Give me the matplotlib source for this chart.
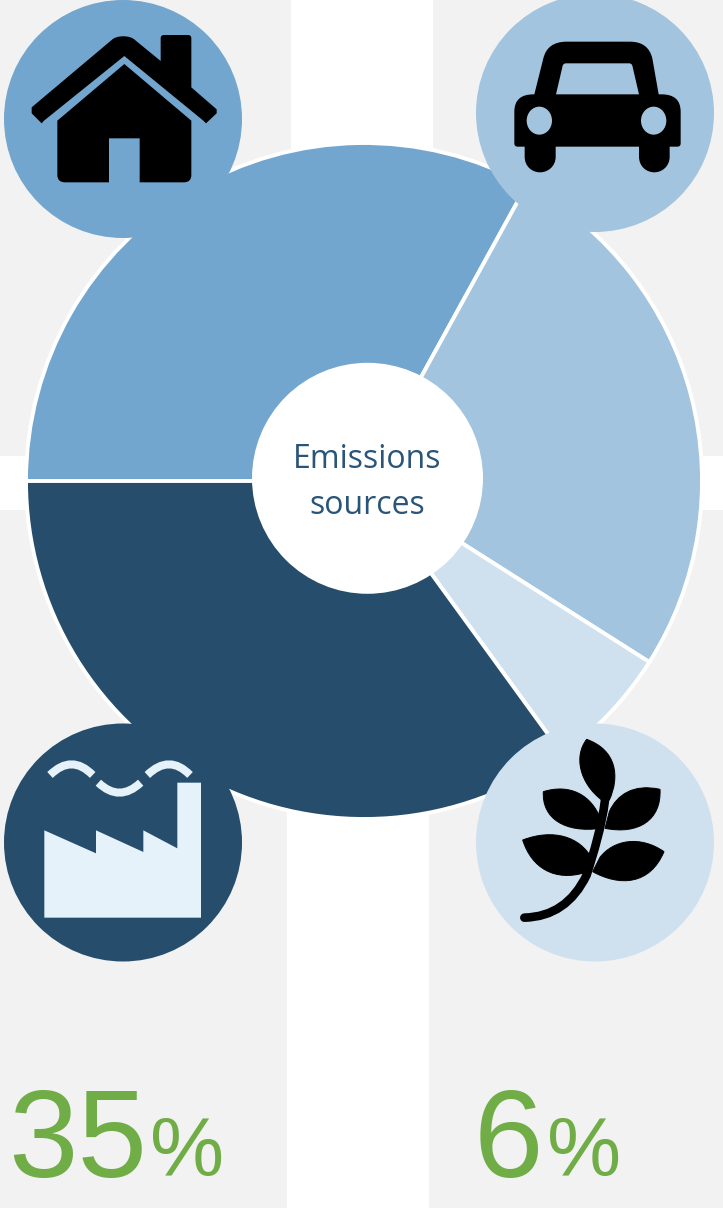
"""
Emissions sources infographic: pie with a white hub, four icon badges and two share callouts.
Icon outlines are traced in picture pixels (y down) and flipped by px_path.
"""
import matplotlib
matplotlib.use("Agg")
import matplotlib.pyplot as plt
from matplotlib.patches import Circle, Ellipse, PathPatch, Rectangle
from matplotlib.path import Path

W, H = 723, 1208

# data
sources = ["Buildings", "Transport", "Land use", "Industry"]
shares = [33, 26, 6, 35]
callouts = [35, 6]
center_label = ["Emissions", "sources"]

# colours
BG = "#f2f2f2"
HOME = "#72a6ce"
CAR = "#a3c4df"
LEAF = "#cfe1ef"
FACTORY = "#264d6b"
FACTORY_ICON = "#e6f2fa"
GREEN = "#70ad47"
LABEL = "#2a5578"

M, L, Q, C, Z = Path.MOVETO, Path.LINETO, Path.CURVE3, Path.CURVE4, Path.CLOSEPOLY


def px_path(cmds, ox=0, oy=0, scale=1 / 3):
    """cmds is a list of (code, (x, y)) in zoomed picture coords"""
    verts = []
    codes = []
    for code, (x, y) in cmds:
        verts.append((ox + x * scale, H - (oy + y * scale)))
        codes.append(code)
    return Path(verts, codes)


def poly(points):
    cmds = [(M, points[0])]
    cmds += [(L, p) for p in points[1:]]
    cmds.append((Z, points[0]))
    return cmds


def leaf(tip, c1, c2, a, b, c3, c4):
    return [(M, tip), (C, c1), (C, c2), (C, a), (L, b), (C, c3), (C, c4), (C, tip), (Z, tip)]


def draw_home(ax):
    roof = [(M, (95, 322)), (L, (335, 120)), (C, (350, 105)), (C, (390, 105)), (C, (405, 120)), (L, (482, 183)),
            (L, (482, 115)), (Q, (482, 105)), (Q, (492, 105)), (L, (564, 105)), (Q, (574, 105)),
            (Q, (574, 115)), (L, (574, 262)), (L, (650, 328)), (L, (650, 340)), (L, (618, 370)),
            (L, (610, 362)), (L, (373, 168)), (L, (132, 362)), (L, (125, 370)), (L, (95, 340)),
            (Z, (95, 322))]
    body = [(M, (172, 362)), (L, (373, 192)), (L, (574, 362)), (L, (574, 525)), (Q, (574, 547)),
            (Q, (552, 547)), (L, (419, 547)), (L, (419, 415)), (L, (327, 415)), (L, (327, 547)),
            (L, (195, 547)), (Q, (172, 547)), (Q, (172, 525)), (Z, (172, 362))]
    ax.add_patch(PathPatch(px_path(roof), fc="black", ec="none", zorder=6))
    ax.add_patch(PathPatch(px_path(body), fc="black", ec="none", zorder=6))


def draw_car(ax):
    ox, oy = 470, 0
    body = [(M, (133, 430)), (L, (133, 335)), (Q, (133, 283)), (Q, (190, 283)), (L, (193, 283)),
            (L, (220, 175)), (Q, (232, 125)), (Q, (290, 125)), (L, (480, 125)), (Q, (535, 125)),
            (Q, (547, 175)), (L, (566, 283)), (L, (575, 283)), (Q, (632, 283)), (Q, (632, 335)),
            (L, (632, 430)), (Q, (632, 440)), (Q, (622, 440)), (L, (599, 440)), (L, (599, 470)),
            (C, (599, 500)), (C, (575, 517)), (C, (553, 517)), (C, (530, 517)), (C, (507, 500)),
            (C, (507, 470)), (L, (507, 440)), (L, (257, 440)), (L, (257, 470)), (C, (257, 500)),
            (C, (233, 517)), (C, (210, 517)), (C, (187, 517)), (C, (164, 500)), (C, (164, 470)),
            (L, (164, 440)), (L, (143, 440)), (Q, (133, 440)), (Q, (133, 430)), (Z, (133, 430))]
    glass = [(M, (258, 283)), (L, (278, 197)), (Q, (280, 190)), (Q, (288, 190)), (L, (478, 190)),
             (Q, (485, 190)), (Q, (487, 197)), (L, (507, 283)), (Z, (258, 283))]
    ax.add_patch(PathPatch(px_path(body, ox, oy), fc="black", ec="none", zorder=6))
    ax.add_patch(PathPatch(px_path(glass, ox, oy), fc=CAR, ec="none", zorder=7))
    for zx in (208, 551):
        ax.add_patch(Ellipse((ox + zx / 3, H - 362 / 3), 76 / 3, 84 / 3, fc=CAR, ec="none", zorder=7))


def draw_factory(ax):
    ox, oy = 0, 720
    shape = poly([(133, 331), (288, 400), (288, 331), (430, 396), (430, 331), (532, 385),
                  (532, 188), (603, 188), (603, 593), (133, 593)])
    ax.add_patch(PathPatch(px_path(shape, ox, oy), fc=FACTORY_ICON, ec="none", zorder=6))
    smoke = [[(150, 165), (215, 101), (278, 165)],
             [(295, 188), (358, 248), (422, 188)],
             [(442, 165), (508, 101), (570, 165)]]
    for a, b, c in smoke:
        arc = px_path([(M, a), (Q, b), (Q, c)], ox, oy)
        ax.add_patch(PathPatch(arc, fc="none", ec=FACTORY_ICON, lw=5.8, capstyle="butt", zorder=6))


def draw_leaf(ax):
    ox, oy = 470, 720
    stem = [(M, (163, 593)), (Q, (290, 590)), (Q, (350, 465)), (C, (372, 395)), (C, (395, 320)), (C, (405, 240))]
    ax.add_patch(PathPatch(px_path(stem, ox, oy), fc="none", ec="black", lw=6.2, capstyle="round", zorder=6))
    leaves = [
        leaf((350, 58), (440, 90), (450, 170), (418, 240), (395, 240), (330, 190), (310, 110)),
        leaf((220, 215), (300, 190), (365, 225), (392, 298), (392, 325), (285, 340), (215, 295)),
        leaf((570, 208), (490, 190), (440, 225), (418, 275), (405, 325), (505, 345), (575, 300)),
        leaf((158, 360), (250, 325), (330, 350), (365, 415), (345, 458), (255, 485), (185, 445)),
        leaf((582, 395), (510, 345), (430, 360), (390, 412), (368, 455), (450, 500), (540, 495)),
    ]
    for cmds in leaves:
        ax.add_patch(PathPatch(px_path(cmds, ox, oy), fc="black", ec="black", lw=0.7, zorder=6))


fig = plt.figure(figsize=(W / 100, H / 100), dpi=100, facecolor=BG)
ax = fig.add_axes([0, 0, 1, 1])
ax.set_facecolor(BG)

# white bands behind the pie
ax.add_patch(Rectangle((291, H - 480), 142, 480, fc="white", ec="none", zorder=0))
ax.add_patch(Rectangle((287, 0), 142, H - 500, fc="white", ec="none", zorder=0))
ax.add_patch(Rectangle((0, H - 510), W, 54, fc="white", ec="none", zorder=0))

ax.pie(shares, colors=[HOME, CAR, LEAF, FACTORY], startangle=180, counterclock=False,
       center=(364, H - 481), radius=338,
       wedgeprops={"edgecolor": "white", "linewidth": 2.8, "zorder": 2})

ax.set_xlim(0, W)
ax.set_ylim(0, H)
ax.set_aspect("equal")
ax.axis("off")

# hub
ax.add_patch(Circle((367.5, H - 478.3), 115.5, fc="white", ec="none", zorder=4))
for txt, y in zip(center_label, (460, 505)):
    ax.text(367.5, H - y, txt, color=LABEL, fontsize=23, family="Open Sans",
            ha="center", va="center", zorder=5)

# badges
for (cx, cy), col in zip([(123, 119), (595, 113), (595, 842.5), (123, 842.5)],
                         [HOME, CAR, LEAF, FACTORY]):
    ax.add_patch(Circle((cx, H - cy), 119, fc=col, ec="none", zorder=5))

draw_home(ax)
draw_car(ax)
draw_leaf(ax)
draw_factory(ax)

# callouts
for val, x_num, x_pct in zip(callouts, (8, 474), (150, 547)):
    ax.text(x_num, H - 1176.5, str(val), color=GREEN, fontsize=90, family="Liberation Sans",
            ha="left", va="baseline", zorder=5)
    ax.text(x_pct, H - 1176.5, "%", color=GREEN, fontsize=60, family="Liberation Sans",
            ha="left", va="baseline", zorder=5)

fig.savefig("out.png", dpi=100, facecolor=BG)
